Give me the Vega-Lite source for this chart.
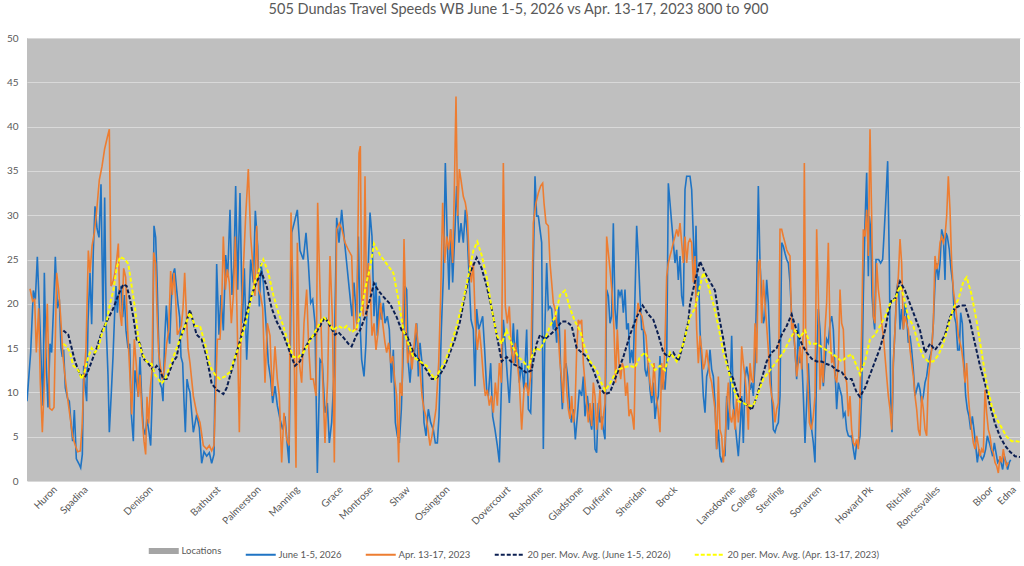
{
"$schema": "https://vega.github.io/schema/vega-lite/v6.json",
"autosize": "none",
"width": 993,
"height": 443,
"padding": {"left": 27, "top": 38, "right": 4, "bottom": 85},
"background": "white",
"title": {"text": "505 Dundas Travel Speeds WB June 1-5, 2026 vs Apr. 13-17, 2023 800 to 900", "fontSize": 14.5, "fontWeight": "normal", "color": "#595959", "font": "Lato", "offset": 16, "anchor": "middle", "dx": -5},
"config": {"view": {"fill": "#BFBFBF", "stroke": null}, "font": "Lato"},
"datasets": {
"loc": [{"pos":74,"name":"Huron","g":"L"},{"pos":166,"name":"Spadina","g":"L"},{"pos":361,"name":"Denison","g":"L"},{"pos":564,"name":"Bathurst","g":"L"},{"pos":685,"name":"Palmerston","g":"L"},{"pos":801,"name":"Manning","g":"L"},{"pos":931,"name":"Grace","g":"L"},{"pos":1021,"name":"Montrose","g":"L"},{"pos":1132,"name":"Shaw","g":"L"},{"pos":1251,"name":"Ossington","g":"L"},{"pos":1434,"name":"Dovercourt","g":"L"},{"pos":1531,"name":"Rusholme","g":"L"},{"pos":1652,"name":"Gladstone","g":"L"},{"pos":1739,"name":"Dufferin","g":"L"},{"pos":1841,"name":"Sheridan","g":"L"},{"pos":1934,"name":"Brock","g":"L"},{"pos":2109,"name":"Lansdowne","g":"L"},{"pos":2174,"name":"College","g":"L"},{"pos":2251,"name":"Sterling","g":"L"},{"pos":2366,"name":"Sorauren","g":"L"},{"pos":2521,"name":"Howard Pk","g":"L"},{"pos":2636,"name":"Ritchie","g":"L"},{"pos":2722,"name":"Roncesvalles","g":"L"},{"pos":2882,"name":"Bloor","g":"L"},{"pos":2951,"name":"Edna","g":"L"}],
"jun": [
{"pos":0,"v":9,"g":"J"},{"pos":11,"v":14.5,"g":"J"},{"pos":19,"v":21.5,"g":"J"},{"pos":25,"v":20.5,"g":"J"},{"pos":31,"v":25.3,"g":"J"},{"pos":37,"v":19.5,"g":"J"},{"pos":43,"v":13,"g":"J"},{"pos":48,"v":8.5,"g":"J"},{"pos":52,"v":23.5,"g":"J"},{"pos":57,"v":14,"g":"J"},{"pos":63,"v":8.3,"g":"J"},{"pos":69,"v":15.5,"g":"J"},{"pos":74,"v":14.5,"g":"J"},{"pos":79,"v":19,"g":"J"},{"pos":85,"v":25.3,"g":"J"},{"pos":91,"v":19.5,"g":"J"},{"pos":97,"v":20.5,"g":"J"},{"pos":102,"v":15,"g":"J"},{"pos":106,"v":14,"g":"J"},{"pos":110,"v":14.8,"g":"J"},{"pos":115,"v":10.5,"g":"J"},{"pos":122,"v":9.3,"g":"J"},{"pos":127,"v":9,"g":"J"},{"pos":132,"v":6.5,"g":"J"},{"pos":137,"v":4.5,"g":"J"},{"pos":142,"v":8,"g":"J"},{"pos":148,"v":2.5,"g":"J"},{"pos":155,"v":2,"g":"J"},{"pos":161,"v":1.5,"g":"J"},{"pos":166,"v":3,"g":"J"},{"pos":170,"v":13,"g":"J"},{"pos":175,"v":10.5,"g":"J"},{"pos":179,"v":9,"g":"J"},{"pos":183,"v":18,"g":"J"},{"pos":189,"v":23.5,"g":"J"},{"pos":194,"v":17.7,"g":"J"},{"pos":199,"v":26,"g":"J"},{"pos":204,"v":31,"g":"J"},{"pos":210,"v":28.5,"g":"J"},{"pos":216,"v":27.5,"g":"J"},{"pos":222,"v":33.5,"g":"J"},{"pos":228,"v":18,"g":"J"},{"pos":233,"v":32,"g":"J"},{"pos":238,"v":17,"g":"J"},{"pos":243,"v":12,"g":"J"},{"pos":247,"v":5.5,"g":"J"},{"pos":253,"v":10,"g":"J"},{"pos":258,"v":14,"g":"J"},{"pos":263,"v":19,"g":"J"},{"pos":267,"v":22,"g":"J"},{"pos":271,"v":19,"g":"J"},{"pos":276,"v":21.5,"g":"J"},{"pos":282,"v":22,"g":"J"},{"pos":287,"v":18.5,"g":"J"},{"pos":292,"v":21,"g":"J"},{"pos":297,"v":17,"g":"J"},{"pos":303,"v":15,"g":"J"},{"pos":308,"v":15.5,"g":"J"},{"pos":313,"v":7.5,"g":"J"},{"pos":319,"v":4.5,"g":"J"},{"pos":324,"v":12.5,"g":"J"},{"pos":329,"v":11,"g":"J"},{"pos":334,"v":9.5,"g":"J"},{"pos":339,"v":14,"g":"J"},{"pos":344,"v":9.5,"g":"J"},{"pos":349,"v":6,"g":"J"},{"pos":355,"v":5.2,"g":"J"},{"pos":360,"v":7,"g":"J"},{"pos":366,"v":5.5,"g":"J"},{"pos":371,"v":4,"g":"J"},{"pos":376,"v":10,"g":"J"},{"pos":381,"v":28.8,"g":"J"},{"pos":386,"v":27.5,"g":"J"},{"pos":390,"v":23,"g":"J"},{"pos":394,"v":17,"g":"J"},{"pos":399,"v":11,"g":"J"},{"pos":404,"v":10.5,"g":"J"},{"pos":408,"v":9,"g":"J"},{"pos":413,"v":16,"g":"J"},{"pos":418,"v":19.8,"g":"J"},{"pos":423,"v":17,"g":"J"},{"pos":428,"v":15.5,"g":"J"},{"pos":433,"v":20.5,"g":"J"},{"pos":438,"v":23.3,"g":"J"},{"pos":443,"v":24,"g":"J"},{"pos":448,"v":22,"g":"J"},{"pos":453,"v":20,"g":"J"},{"pos":458,"v":18.5,"g":"J"},{"pos":462,"v":14,"g":"J"},{"pos":467,"v":13.3,"g":"J"},{"pos":471,"v":9,"g":"J"},{"pos":475,"v":5.5,"g":"J"},{"pos":480,"v":11.5,"g":"J"},{"pos":485,"v":10.5,"g":"J"},
{"pos":489,"v":10,"g":"J"},{"pos":499,"v":5.5,"g":"J"},{"pos":509,"v":7.5,"g":"J"},{"pos":517,"v":6,"g":"J"},{"pos":524,"v":2,"g":"J"},{"pos":531,"v":3.3,"g":"J"},{"pos":539,"v":2.8,"g":"J"},{"pos":547,"v":3.2,"g":"J"},{"pos":554,"v":2,"g":"J"},{"pos":561,"v":3,"g":"J"},{"pos":569,"v":24.5,"g":"J"},{"pos":576,"v":16.5,"g":"J"},{"pos":582,"v":21,"g":"J"},{"pos":589,"v":17,"g":"J"},{"pos":596,"v":25.5,"g":"J"},{"pos":602,"v":23,"g":"J"},{"pos":609,"v":30.6,"g":"J"},{"pos":615,"v":21,"g":"J"},{"pos":621,"v":24.5,"g":"J"},{"pos":626,"v":33.3,"g":"J"},{"pos":632,"v":21.6,"g":"J"},{"pos":639,"v":32.5,"g":"J"},{"pos":646,"v":17.8,"g":"J"},{"pos":652,"v":24,"g":"J"},{"pos":659,"v":13.7,"g":"J"},{"pos":664,"v":18,"g":"J"},{"pos":671,"v":25,"g":"J"},{"pos":679,"v":22.4,"g":"J"},{"pos":685,"v":30.5,"g":"J"},{"pos":692,"v":26.5,"g":"J"},{"pos":697,"v":19.7,"g":"J"},{"pos":702,"v":24.6,"g":"J"},{"pos":709,"v":22.4,"g":"J"},{"pos":717,"v":17.8,"g":"J"},{"pos":724,"v":13.3,"g":"J"},{"pos":731,"v":11.5,"g":"J"},{"pos":737,"v":8.8,"g":"J"},{"pos":744,"v":10.7,"g":"J"},{"pos":751,"v":8.5,"g":"J"},{"pos":759,"v":7,"g":"J"},{"pos":767,"v":5.8,"g":"J"},{"pos":774,"v":7.3,"g":"J"},{"pos":781,"v":4,"g":"J"},{"pos":786,"v":2,"g":"J"},{"pos":794,"v":28,"g":"J"},{"pos":804,"v":29.5,"g":"J"},{"pos":811,"v":30.6,"g":"J"},{"pos":819,"v":26,"g":"J"},{"pos":829,"v":25,"g":"J"},{"pos":837,"v":28,"g":"J"},{"pos":844,"v":24.6,"g":"J"},{"pos":851,"v":20.1,"g":"J"},{"pos":857,"v":20.5,"g":"J"},{"pos":864,"v":17.8,"g":"J"},{"pos":871,"v":0.9,"g":"J"},{"pos":879,"v":13.7,"g":"J"},{"pos":886,"v":13.3,"g":"J"},{"pos":894,"v":7.7,"g":"J"},{"pos":901,"v":8.8,"g":"J"},{"pos":907,"v":4.3,"g":"J"},{"pos":914,"v":6.6,"g":"J"},{"pos":921,"v":12,"g":"J"},{"pos":929,"v":29.7,"g":"J"},{"pos":936,"v":26.9,"g":"J"},{"pos":944,"v":30.6,"g":"J"},{"pos":951,"v":27.6,"g":"J"},{"pos":959,"v":24.6,"g":"J"},{"pos":967,"v":21.6,"g":"J"},{"pos":975,"v":18.6,"g":"J"},{"pos":981,"v":22.4,"g":"J"},{"pos":989,"v":17.8,"g":"J"},{"pos":994,"v":27.6,"g":"J"},
{"pos":999,"v":17.8,"g":"J"},{"pos":1004,"v":13.7,"g":"J"},{"pos":1011,"v":11.8,"g":"J"},{"pos":1017,"v":15.6,"g":"J"},{"pos":1024,"v":24.6,"g":"J"},{"pos":1029,"v":30.3,"g":"J"},{"pos":1035,"v":27.6,"g":"J"},{"pos":1041,"v":18.6,"g":"J"},{"pos":1047,"v":22.4,"g":"J"},{"pos":1051,"v":16.4,"g":"J"},{"pos":1057,"v":20.9,"g":"J"},{"pos":1063,"v":18.2,"g":"J"},{"pos":1069,"v":20.1,"g":"J"},{"pos":1074,"v":17.8,"g":"J"},{"pos":1081,"v":18.6,"g":"J"},{"pos":1087,"v":17.1,"g":"J"},{"pos":1093,"v":11.1,"g":"J"},{"pos":1099,"v":14.8,"g":"J"},{"pos":1105,"v":6.6,"g":"J"},{"pos":1111,"v":5.1,"g":"J"},{"pos":1117,"v":4.3,"g":"J"},{"pos":1123,"v":8.1,"g":"J"},{"pos":1129,"v":14.8,"g":"J"},{"pos":1134,"v":22,"g":"J"},{"pos":1139,"v":21.6,"g":"J"},{"pos":1144,"v":13.3,"g":"J"},{"pos":1149,"v":11.1,"g":"J"},{"pos":1156,"v":14.8,"g":"J"},{"pos":1162,"v":14.1,"g":"J"},{"pos":1169,"v":17.8,"g":"J"},{"pos":1174,"v":11.8,"g":"J"},{"pos":1179,"v":15.6,"g":"J"},{"pos":1185,"v":13.3,"g":"J"},{"pos":1191,"v":6.6,"g":"J"},{"pos":1197,"v":5.1,"g":"J"},{"pos":1204,"v":8.1,"g":"J"},{"pos":1211,"v":6.6,"g":"J"},{"pos":1219,"v":5.8,"g":"J"},{"pos":1225,"v":4.3,"g":"J"},{"pos":1231,"v":4.3,"g":"J"},{"pos":1236,"v":7.3,"g":"J"},{"pos":1243,"v":17.1,"g":"J"},{"pos":1249,"v":23.1,"g":"J"},{"pos":1255,"v":35.9,"g":"J"},{"pos":1261,"v":26.9,"g":"J"},{"pos":1266,"v":21.6,"g":"J"},{"pos":1271,"v":28.4,"g":"J"},{"pos":1277,"v":22.4,"g":"J"},{"pos":1284,"v":28.4,"g":"J"},{"pos":1289,"v":33.3,"g":"J"},{"pos":1296,"v":26.9,"g":"J"},{"pos":1302,"v":29.1,"g":"J"},{"pos":1309,"v":26.9,"g":"J"},{"pos":1315,"v":30.6,"g":"J"},{"pos":1321,"v":27.6,"g":"J"},{"pos":1327,"v":22.4,"g":"J"},{"pos":1332,"v":18.2,"g":"J"},{"pos":1339,"v":17.1,"g":"J"},{"pos":1344,"v":10.7,"g":"J"},{"pos":1349,"v":19.4,"g":"J"},{"pos":1355,"v":17.1,"g":"J"},{"pos":1361,"v":17.8,"g":"J"},{"pos":1367,"v":18.6,"g":"J"},{"pos":1373,"v":14.8,"g":"J"},{"pos":1379,"v":10.3,"g":"J"},{"pos":1384,"v":9.6,"g":"J"},{"pos":1391,"v":13.3,"g":"J"},{"pos":1397,"v":7.3,"g":"J"},{"pos":1404,"v":5.8,"g":"J"},{"pos":1411,"v":4,"g":"J"},{"pos":1417,"v":2.1,"g":"J"},{"pos":1423,"v":10.3,"g":"J"},{"pos":1429,"v":18.2,"g":"J"},{"pos":1435,"v":15.2,"g":"J"},{"pos":1441,"v":11.8,"g":"J"},{"pos":1447,"v":8.8,"g":"J"},{"pos":1453,"v":13.3,"g":"J"},{"pos":1459,"v":17.8,"g":"J"},{"pos":1465,"v":13.3,"g":"J"},{"pos":1471,"v":17.1,"g":"J"},{"pos":1477,"v":11.1,"g":"J"},{"pos":1484,"v":13.3,"g":"J"},{"pos":1491,"v":10.3,"g":"J"},{"pos":1499,"v":17.1,"g":"J"},{"pos":1504,"v":8.1,"g":"J"},{"pos":1511,"v":7.7,"g":"J"},
{"pos":1514,"v":11.1,"g":"J"},{"pos":1519,"v":24.6,"g":"J"},{"pos":1524,"v":34.4,"g":"J"},{"pos":1529,"v":29.9,"g":"J"},{"pos":1534,"v":29.9,"g":"J"},{"pos":1539,"v":28.4,"g":"J"},{"pos":1544,"v":26.9,"g":"J"},{"pos":1549,"v":3.6,"g":"J"},{"pos":1554,"v":17.8,"g":"J"},{"pos":1559,"v":24.6,"g":"J"},{"pos":1564,"v":19.4,"g":"J"},{"pos":1569,"v":19.7,"g":"J"},{"pos":1574,"v":19.4,"g":"J"},{"pos":1579,"v":17.1,"g":"J"},{"pos":1584,"v":18.2,"g":"J"},{"pos":1589,"v":15.6,"g":"J"},{"pos":1595,"v":19.7,"g":"J"},{"pos":1601,"v":12.6,"g":"J"},{"pos":1606,"v":8.1,"g":"J"},{"pos":1612,"v":12.6,"g":"J"},{"pos":1617,"v":13.3,"g":"J"},{"pos":1622,"v":11.8,"g":"J"},{"pos":1627,"v":8.8,"g":"J"},{"pos":1633,"v":6.6,"g":"J"},{"pos":1639,"v":8.1,"g":"J"},{"pos":1645,"v":4.7,"g":"J"},{"pos":1651,"v":7.3,"g":"J"},{"pos":1657,"v":10.3,"g":"J"},{"pos":1664,"v":9.6,"g":"J"},{"pos":1669,"v":11.8,"g":"J"},{"pos":1674,"v":7.3,"g":"J"},{"pos":1681,"v":9.6,"g":"J"},{"pos":1687,"v":7.3,"g":"J"},{"pos":1694,"v":5.8,"g":"J"},{"pos":1699,"v":8.8,"g":"J"},{"pos":1704,"v":3.6,"g":"J"},{"pos":1709,"v":3.2,"g":"J"},{"pos":1714,"v":8.8,"g":"J"},{"pos":1719,"v":6.6,"g":"J"},{"pos":1724,"v":7.3,"g":"J"},{"pos":1729,"v":5.8,"g":"J"},{"pos":1734,"v":4.7,"g":"J"},{"pos":1739,"v":21.6,"g":"J"},{"pos":1744,"v":20.9,"g":"J"},{"pos":1749,"v":17.8,"g":"J"},{"pos":1754,"v":18.6,"g":"J"},{"pos":1759,"v":29.1,"g":"J"},{"pos":1764,"v":19.4,"g":"J"},{"pos":1769,"v":17.1,"g":"J"},{"pos":1774,"v":21.6,"g":"J"},{"pos":1779,"v":20.9,"g":"J"},{"pos":1784,"v":21.6,"g":"J"},{"pos":1789,"v":19,"g":"J"},{"pos":1794,"v":21.6,"g":"J"},{"pos":1799,"v":17.1,"g":"J"},{"pos":1804,"v":17.8,"g":"J"},{"pos":1809,"v":13.3,"g":"J"},{"pos":1814,"v":14.8,"g":"J"},{"pos":1819,"v":13.3,"g":"J"},{"pos":1824,"v":20.9,"g":"J"},{"pos":1829,"v":28.8,"g":"J"},{"pos":1834,"v":25.4,"g":"J"},{"pos":1839,"v":20.9,"g":"J"},{"pos":1844,"v":17.1,"g":"J"},{"pos":1849,"v":17.1,"g":"J"},{"pos":1854,"v":12.6,"g":"J"},{"pos":1859,"v":11.8,"g":"J"},{"pos":1864,"v":13.3,"g":"J"},{"pos":1869,"v":10.3,"g":"J"},{"pos":1874,"v":8.8,"g":"J"},{"pos":1879,"v":11.1,"g":"J"},{"pos":1884,"v":7,"g":"J"},{"pos":1889,"v":8.8,"g":"J"},{"pos":1894,"v":9.6,"g":"J"},{"pos":1899,"v":14.1,"g":"J"},{"pos":1904,"v":10.3,"g":"J"},{"pos":1909,"v":11.5,"g":"J"},{"pos":1914,"v":10.3,"g":"J"},{"pos":1919,"v":13.3,"g":"J"},{"pos":1924,"v":33.6,"g":"J"},{"pos":1929,"v":31.4,"g":"J"},{"pos":1934,"v":29.1,"g":"J"},{"pos":1939,"v":26.9,"g":"J"},{"pos":1944,"v":24.6,"g":"J"},{"pos":1949,"v":26.1,"g":"J"},{"pos":1954,"v":22.7,"g":"J"},{"pos":1959,"v":25.4,"g":"J"},{"pos":1964,"v":20.9,"g":"J"},{"pos":1969,"v":19.7,"g":"J"},{"pos":1974,"v":32.9,"g":"J"},{"pos":1979,"v":34.4,"g":"J"},{"pos":1984,"v":34.4,"g":"J"},
{"pos":1989,"v":34.4,"g":"J"},{"pos":1994,"v":32.9,"g":"J"},{"pos":1999,"v":27.6,"g":"J"},{"pos":2004,"v":22.4,"g":"J"},{"pos":2007,"v":28.8,"g":"J"},{"pos":2011,"v":20.9,"g":"J"},{"pos":2015,"v":23.1,"g":"J"},{"pos":2019,"v":17.1,"g":"J"},{"pos":2024,"v":13.3,"g":"J"},{"pos":2029,"v":9.6,"g":"J"},{"pos":2034,"v":7.7,"g":"J"},{"pos":2039,"v":11.8,"g":"J"},{"pos":2044,"v":12.6,"g":"J"},{"pos":2049,"v":14.8,"g":"J"},{"pos":2054,"v":12.6,"g":"J"},{"pos":2059,"v":11.8,"g":"J"},{"pos":2064,"v":8.8,"g":"J"},{"pos":2069,"v":3.6,"g":"J"},{"pos":2074,"v":5.8,"g":"J"},{"pos":2079,"v":2.8,"g":"J"},{"pos":2084,"v":2.1,"g":"J"},{"pos":2089,"v":3.2,"g":"J"},{"pos":2094,"v":2.8,"g":"J"},{"pos":2099,"v":9.6,"g":"J"},{"pos":2104,"v":5.8,"g":"J"},{"pos":2109,"v":9.6,"g":"J"},{"pos":2114,"v":16.4,"g":"J"},{"pos":2119,"v":8.8,"g":"J"},{"pos":2124,"v":6.6,"g":"J"},{"pos":2129,"v":4.7,"g":"J"},{"pos":2134,"v":2.8,"g":"J"},{"pos":2139,"v":5.8,"g":"J"},{"pos":2144,"v":9.6,"g":"J"},{"pos":2149,"v":4.3,"g":"J"},{"pos":2154,"v":11.5,"g":"J"},{"pos":2159,"v":12.9,"g":"J"},{"pos":2164,"v":11.8,"g":"J"},{"pos":2169,"v":10.3,"g":"J"},{"pos":2174,"v":11.1,"g":"J"},{"pos":2179,"v":9.6,"g":"J"},{"pos":2184,"v":13.3,"g":"J"},{"pos":2189,"v":21.6,"g":"J"},{"pos":2194,"v":33.3,"g":"J"},{"pos":2199,"v":24.6,"g":"J"},{"pos":2204,"v":20.9,"g":"J"},{"pos":2209,"v":17.8,"g":"J"},{"pos":2214,"v":18.6,"g":"J"},{"pos":2219,"v":22.7,"g":"J"},{"pos":2224,"v":20.1,"g":"J"},{"pos":2229,"v":15.2,"g":"J"},{"pos":2234,"v":9.6,"g":"J"},{"pos":2239,"v":5.8,"g":"J"},{"pos":2244,"v":5.5,"g":"J"},{"pos":2249,"v":6.2,"g":"J"},{"pos":2254,"v":6.6,"g":"J"},{"pos":2259,"v":9.6,"g":"J"},{"pos":2264,"v":26.9,"g":"J"},{"pos":2269,"v":26.5,"g":"J"},{"pos":2274,"v":25.7,"g":"J"},{"pos":2279,"v":25,"g":"J"},{"pos":2284,"v":24.6,"g":"J"},{"pos":2289,"v":22.4,"g":"J"},{"pos":2294,"v":18.6,"g":"J"},{"pos":2299,"v":17.1,"g":"J"},{"pos":2304,"v":14.8,"g":"J"},{"pos":2309,"v":11.5,"g":"J"},{"pos":2314,"v":17.8,"g":"J"},{"pos":2319,"v":13.3,"g":"J"},{"pos":2324,"v":14.1,"g":"J"},{"pos":2329,"v":9.6,"g":"J"},{"pos":2334,"v":4.3,"g":"J"},{"pos":2339,"v":8.8,"g":"J"},{"pos":2344,"v":13.3,"g":"J"},{"pos":2349,"v":8.8,"g":"J"},{"pos":2354,"v":5.8,"g":"J"},{"pos":2359,"v":4.3,"g":"J"},{"pos":2364,"v":2.1,"g":"J"},{"pos":2369,"v":13.3,"g":"J"},{"pos":2374,"v":19.4,"g":"J"},{"pos":2379,"v":17.1,"g":"J"},{"pos":2384,"v":13.3,"g":"J"},{"pos":2389,"v":10.7,"g":"J"},{"pos":2394,"v":13.3,"g":"J"},{"pos":2399,"v":16,"g":"J"},{"pos":2404,"v":15.6,"g":"J"},{"pos":2409,"v":17.8,"g":"J"},{"pos":2414,"v":18.6,"g":"J"},{"pos":2419,"v":17.1,"g":"J"},{"pos":2424,"v":12.6,"g":"J"},{"pos":2429,"v":8.1,"g":"J"},{"pos":2434,"v":11.1,"g":"J"},{"pos":2439,"v":10.3,"g":"J"},{"pos":2444,"v":9.6,"g":"J"},{"pos":2449,"v":7.3,"g":"J"},{"pos":2454,"v":7.7,"g":"J"},{"pos":2459,"v":5.8,"g":"J"},{"pos":2464,"v":5.1,"g":"J"},
{"pos":2469,"v":5,"g":"J"},{"pos":2474,"v":5.1,"g":"J"},{"pos":2479,"v":3.6,"g":"J"},{"pos":2484,"v":2.4,"g":"J"},{"pos":2489,"v":4.3,"g":"J"},{"pos":2494,"v":4,"g":"J"},{"pos":2499,"v":5.1,"g":"J"},{"pos":2504,"v":9.6,"g":"J"},{"pos":2509,"v":20.9,"g":"J"},{"pos":2514,"v":29.1,"g":"J"},{"pos":2519,"v":34.8,"g":"J"},{"pos":2524,"v":23.1,"g":"J"},{"pos":2527,"v":29.9,"g":"J"},{"pos":2531,"v":28.4,"g":"J"},{"pos":2535,"v":20.9,"g":"J"},{"pos":2539,"v":18.6,"g":"J"},{"pos":2543,"v":17.1,"g":"J"},{"pos":2547,"v":25,"g":"J"},{"pos":2551,"v":25,"g":"J"},{"pos":2555,"v":25,"g":"J"},{"pos":2561,"v":24.6,"g":"J"},{"pos":2567,"v":25,"g":"J"},{"pos":2572,"v":28.4,"g":"J"},{"pos":2577,"v":32.1,"g":"J"},{"pos":2582,"v":36.1,"g":"J"},{"pos":2587,"v":24.6,"g":"J"},{"pos":2591,"v":9.6,"g":"J"},{"pos":2595,"v":5.5,"g":"J"},{"pos":2599,"v":13.3,"g":"J"},{"pos":2604,"v":17.1,"g":"J"},{"pos":2609,"v":21.6,"g":"J"},{"pos":2614,"v":22.7,"g":"J"},{"pos":2619,"v":17.1,"g":"J"},{"pos":2624,"v":19.4,"g":"J"},{"pos":2629,"v":17.1,"g":"J"},{"pos":2634,"v":20.1,"g":"J"},{"pos":2639,"v":18.6,"g":"J"},{"pos":2644,"v":15.6,"g":"J"},{"pos":2649,"v":16.4,"g":"J"},{"pos":2654,"v":14.8,"g":"J"},{"pos":2659,"v":12.6,"g":"J"},{"pos":2664,"v":9.6,"g":"J"},{"pos":2669,"v":10.3,"g":"J"},{"pos":2674,"v":11.1,"g":"J"},{"pos":2679,"v":10.3,"g":"J"},{"pos":2684,"v":8.8,"g":"J"},{"pos":2689,"v":9.6,"g":"J"},{"pos":2694,"v":11.1,"g":"J"},{"pos":2699,"v":11.8,"g":"J"},{"pos":2704,"v":13.3,"g":"J"},{"pos":2709,"v":14.1,"g":"J"},{"pos":2714,"v":14.8,"g":"J"},{"pos":2719,"v":17.8,"g":"J"},{"pos":2724,"v":22.4,"g":"J"},{"pos":2729,"v":24.6,"g":"J"},{"pos":2734,"v":22.7,"g":"J"},{"pos":2739,"v":24.6,"g":"J"},{"pos":2744,"v":28.4,"g":"J"},{"pos":2749,"v":27.6,"g":"J"},{"pos":2754,"v":22.7,"g":"J"},{"pos":2757,"v":28,"g":"J"},{"pos":2761,"v":27.6,"g":"J"},{"pos":2767,"v":26.1,"g":"J"},{"pos":2772,"v":23.9,"g":"J"},{"pos":2777,"v":22.4,"g":"J"},{"pos":2782,"v":18.6,"g":"J"},{"pos":2787,"v":17.8,"g":"J"},{"pos":2792,"v":14.8,"g":"J"},{"pos":2797,"v":14.8,"g":"J"},{"pos":2801,"v":19,"g":"J"},{"pos":2806,"v":17.8,"g":"J"},{"pos":2811,"v":13.3,"g":"J"},{"pos":2816,"v":9.6,"g":"J"},{"pos":2821,"v":8.1,"g":"J"},{"pos":2826,"v":7.3,"g":"J"},{"pos":2831,"v":5.8,"g":"J"},{"pos":2836,"v":7.3,"g":"J"},{"pos":2841,"v":5.8,"g":"J"},{"pos":2846,"v":4,"g":"J"},{"pos":2851,"v":2.1,"g":"J"},{"pos":2856,"v":3.6,"g":"J"},{"pos":2861,"v":2.8,"g":"J"},{"pos":2866,"v":2.4,"g":"J"},{"pos":2871,"v":2.8,"g":"J"},{"pos":2876,"v":3.6,"g":"J"},{"pos":2881,"v":5.1,"g":"J"},{"pos":2887,"v":4.3,"g":"J"},{"pos":2892,"v":3.6,"g":"J"},{"pos":2897,"v":2.8,"g":"J"},{"pos":2902,"v":4.3,"g":"J"},{"pos":2907,"v":3.2,"g":"J"},{"pos":2912,"v":2.1,"g":"J"},{"pos":2917,"v":2.4,"g":"J"},{"pos":2922,"v":2.1,"g":"J"},{"pos":2927,"v":1.3,"g":"J"},{"pos":2932,"v":2.8,"g":"J"},{"pos":2937,"v":2.1,"g":"J"},{"pos":2942,"v":1.3,"g":"J"},{"pos":2947,"v":2.1,"g":"J"},{"pos":2951,"v":2.4,"g":"J"}
],
"apr": [
{"pos":9,"v":21.7,"g":"A"},{"pos":17,"v":20.3,"g":"A"},{"pos":23,"v":20.5,"g":"A"},{"pos":28,"v":14.5,"g":"A"},{"pos":35,"v":19.5,"g":"A"},{"pos":40,"v":11,"g":"A"},{"pos":46,"v":5.5,"g":"A"},{"pos":53,"v":12,"g":"A"},{"pos":61,"v":20,"g":"A"},{"pos":68,"v":8.2,"g":"A"},{"pos":75,"v":8,"g":"A"},{"pos":81,"v":8.3,"g":"A"},{"pos":89,"v":23.5,"g":"A"},{"pos":95,"v":21.5,"g":"A"},{"pos":101,"v":18.5,"g":"A"},{"pos":108,"v":14,"g":"A"},{"pos":115,"v":11.5,"g":"A"},{"pos":123,"v":9,"g":"A"},{"pos":130,"v":7,"g":"A"},{"pos":137,"v":5,"g":"A"},{"pos":145,"v":4,"g":"A"},{"pos":152,"v":3.3,"g":"A"},{"pos":160,"v":3.4,"g":"A"},{"pos":165,"v":6,"g":"A"},{"pos":171,"v":11.5,"g":"A"},{"pos":177,"v":15,"g":"A"},{"pos":184,"v":26,"g":"A"},{"pos":189,"v":23.5,"g":"A"},{"pos":195,"v":26.5,"g":"A"},{"pos":202,"v":28,"g":"A"},{"pos":209,"v":30.5,"g":"A"},{"pos":217,"v":34,"g":"A"},{"pos":225,"v":35.5,"g":"A"},{"pos":233,"v":37.5,"g":"A"},{"pos":241,"v":38.8,"g":"A"},{"pos":247,"v":39.7,"g":"A"},{"pos":252,"v":22,"g":"A"},{"pos":258,"v":22.5,"g":"A"},{"pos":264,"v":23.5,"g":"A"},{"pos":269,"v":25,"g":"A"},{"pos":274,"v":26.8,"g":"A"},{"pos":279,"v":19,"g":"A"},{"pos":284,"v":17.5,"g":"A"},{"pos":290,"v":24,"g":"A"},{"pos":296,"v":23,"g":"A"},{"pos":302,"v":17,"g":"A"},{"pos":308,"v":12.5,"g":"A"},{"pos":314,"v":7.5,"g":"A"},{"pos":322,"v":16,"g":"A"},{"pos":328,"v":13,"g":"A"},{"pos":334,"v":9.5,"g":"A"},{"pos":339,"v":12,"g":"A"},{"pos":345,"v":7.5,"g":"A"},{"pos":351,"v":4.5,"g":"A"},{"pos":356,"v":3,"g":"A"},{"pos":360,"v":9.5,"g":"A"},{"pos":365,"v":6.5,"g":"A"},{"pos":370,"v":10.5,"g":"A"},{"pos":375,"v":12.5,"g":"A"},{"pos":380,"v":25.8,"g":"A"},{"pos":386,"v":24.5,"g":"A"},{"pos":390,"v":19,"g":"A"},{"pos":395,"v":14.5,"g":"A"},{"pos":400,"v":13,"g":"A"},{"pos":406,"v":11.5,"g":"A"},{"pos":412,"v":12.5,"g":"A"},{"pos":419,"v":15.5,"g":"A"},{"pos":425,"v":17,"g":"A"},{"pos":431,"v":23.7,"g":"A"},{"pos":436,"v":21,"g":"A"},{"pos":441,"v":23.5,"g":"A"},{"pos":446,"v":20.5,"g":"A"},{"pos":451,"v":16.5,"g":"A"},{"pos":457,"v":17,"g":"A"},{"pos":463,"v":17.5,"g":"A"},{"pos":468,"v":19.5,"g":"A"},{"pos":473,"v":23.5,"g":"A"},{"pos":478,"v":19,"g":"A"},{"pos":483,"v":15,"g":"A"},
{"pos":489,"v":13.3,"g":"A"},{"pos":499,"v":9.6,"g":"A"},{"pos":509,"v":7.7,"g":"A"},{"pos":519,"v":6.6,"g":"A"},{"pos":529,"v":4,"g":"A"},{"pos":539,"v":3.6,"g":"A"},{"pos":547,"v":4,"g":"A"},{"pos":554,"v":3.4,"g":"A"},{"pos":561,"v":4,"g":"A"},{"pos":571,"v":16,"g":"A"},{"pos":579,"v":16,"g":"A"},{"pos":584,"v":19.7,"g":"A"},{"pos":589,"v":27.6,"g":"A"},{"pos":595,"v":21.6,"g":"A"},{"pos":601,"v":23.9,"g":"A"},{"pos":607,"v":22.4,"g":"A"},{"pos":613,"v":17.8,"g":"A"},{"pos":619,"v":20.9,"g":"A"},{"pos":625,"v":27.6,"g":"A"},{"pos":631,"v":17.1,"g":"A"},{"pos":637,"v":5.5,"g":"A"},{"pos":643,"v":19,"g":"A"},{"pos":649,"v":23.9,"g":"A"},{"pos":656,"v":29.9,"g":"A"},{"pos":664,"v":35.2,"g":"A"},{"pos":671,"v":27.6,"g":"A"},{"pos":677,"v":24.6,"g":"A"},{"pos":684,"v":20.9,"g":"A"},{"pos":689,"v":28.8,"g":"A"},{"pos":695,"v":21.6,"g":"A"},{"pos":701,"v":20.9,"g":"A"},{"pos":707,"v":19.5,"g":"A"},{"pos":714,"v":11.1,"g":"A"},{"pos":721,"v":17.8,"g":"A"},{"pos":729,"v":16.4,"g":"A"},{"pos":736,"v":9.6,"g":"A"},{"pos":744,"v":15.2,"g":"A"},{"pos":751,"v":11.5,"g":"A"},{"pos":757,"v":9.6,"g":"A"},{"pos":764,"v":2.1,"g":"A"},{"pos":771,"v":7.7,"g":"A"},{"pos":779,"v":4.7,"g":"A"},{"pos":786,"v":4,"g":"A"},{"pos":792,"v":30.3,"g":"A"},{"pos":799,"v":20.1,"g":"A"},{"pos":807,"v":1.5,"g":"A"},{"pos":811,"v":26.9,"g":"A"},{"pos":817,"v":13.3,"g":"A"},{"pos":824,"v":11.1,"g":"A"},{"pos":831,"v":17.8,"g":"A"},{"pos":839,"v":21.6,"g":"A"},{"pos":845,"v":15.2,"g":"A"},{"pos":851,"v":11.5,"g":"A"},{"pos":859,"v":11.5,"g":"A"},{"pos":867,"v":9.6,"g":"A"},{"pos":872,"v":31.4,"g":"A"},{"pos":879,"v":21.6,"g":"A"},{"pos":887,"v":11.5,"g":"A"},{"pos":894,"v":4.3,"g":"A"},{"pos":902,"v":11.5,"g":"A"},{"pos":909,"v":25.4,"g":"A"},{"pos":916,"v":18.6,"g":"A"},{"pos":922,"v":2.1,"g":"A"},{"pos":929,"v":28.4,"g":"A"},{"pos":937,"v":29.1,"g":"A"},{"pos":945,"v":28.4,"g":"A"},{"pos":954,"v":26.9,"g":"A"},{"pos":964,"v":26.1,"g":"A"},{"pos":974,"v":25.4,"g":"A"},{"pos":981,"v":17.1,"g":"A"},{"pos":989,"v":17.1,"g":"A"},{"pos":996,"v":37,"g":"A"},
{"pos":1000,"v":37.8,"g":"A"},{"pos":1004,"v":20.9,"g":"A"},{"pos":1009,"v":18.6,"g":"A"},{"pos":1014,"v":34.4,"g":"A"},{"pos":1019,"v":18.6,"g":"A"},{"pos":1024,"v":24.6,"g":"A"},{"pos":1029,"v":22.7,"g":"A"},{"pos":1035,"v":16.4,"g":"A"},{"pos":1041,"v":17.8,"g":"A"},{"pos":1047,"v":14.8,"g":"A"},{"pos":1054,"v":17.1,"g":"A"},{"pos":1061,"v":20.1,"g":"A"},{"pos":1067,"v":17.8,"g":"A"},{"pos":1074,"v":15.6,"g":"A"},{"pos":1079,"v":14.5,"g":"A"},{"pos":1085,"v":15.6,"g":"A"},{"pos":1091,"v":13.3,"g":"A"},{"pos":1097,"v":14.1,"g":"A"},{"pos":1103,"v":11.5,"g":"A"},{"pos":1109,"v":9.6,"g":"A"},{"pos":1115,"v":2.1,"g":"A"},{"pos":1119,"v":11.1,"g":"A"},{"pos":1125,"v":9.6,"g":"A"},{"pos":1131,"v":27.3,"g":"A"},{"pos":1137,"v":17.8,"g":"A"},{"pos":1142,"v":13.3,"g":"A"},{"pos":1149,"v":15.2,"g":"A"},{"pos":1155,"v":12.6,"g":"A"},{"pos":1161,"v":15.2,"g":"A"},{"pos":1167,"v":17.8,"g":"A"},{"pos":1173,"v":15.6,"g":"A"},{"pos":1179,"v":12.6,"g":"A"},{"pos":1185,"v":9.6,"g":"A"},{"pos":1191,"v":8.1,"g":"A"},{"pos":1197,"v":7.3,"g":"A"},{"pos":1203,"v":5.8,"g":"A"},{"pos":1209,"v":4,"g":"A"},{"pos":1215,"v":5.1,"g":"A"},{"pos":1221,"v":6.6,"g":"A"},{"pos":1227,"v":8.1,"g":"A"},{"pos":1235,"v":13.3,"g":"A"},{"pos":1241,"v":20.9,"g":"A"},{"pos":1247,"v":31.4,"g":"A"},{"pos":1253,"v":24.6,"g":"A"},{"pos":1259,"v":27.6,"g":"A"},{"pos":1265,"v":26.1,"g":"A"},{"pos":1271,"v":28.4,"g":"A"},{"pos":1277,"v":24.6,"g":"A"},{"pos":1282,"v":32.9,"g":"A"},{"pos":1287,"v":43.4,"g":"A"},{"pos":1292,"v":29.9,"g":"A"},{"pos":1297,"v":35.2,"g":"A"},{"pos":1302,"v":34,"g":"A"},{"pos":1309,"v":32.1,"g":"A"},{"pos":1315,"v":31.4,"g":"A"},{"pos":1321,"v":29.9,"g":"A"},{"pos":1327,"v":24.6,"g":"A"},{"pos":1333,"v":22.4,"g":"A"},{"pos":1339,"v":24.6,"g":"A"},{"pos":1345,"v":17.8,"g":"A"},{"pos":1351,"v":14.8,"g":"A"},{"pos":1357,"v":17.1,"g":"A"},{"pos":1363,"v":14.8,"g":"A"},{"pos":1369,"v":11.8,"g":"A"},{"pos":1375,"v":9.6,"g":"A"},{"pos":1381,"v":10.3,"g":"A"},{"pos":1387,"v":8.5,"g":"A"},{"pos":1393,"v":9.6,"g":"A"},{"pos":1399,"v":7.7,"g":"A"},{"pos":1405,"v":11.1,"g":"A"},{"pos":1411,"v":8.5,"g":"A"},{"pos":1417,"v":13.3,"g":"A"},{"pos":1423,"v":11.1,"g":"A"},{"pos":1429,"v":35.9,"g":"A"},{"pos":1435,"v":19.7,"g":"A"},{"pos":1441,"v":17.8,"g":"A"},{"pos":1447,"v":19.7,"g":"A"},{"pos":1453,"v":14.8,"g":"A"},{"pos":1459,"v":13.3,"g":"A"},{"pos":1465,"v":15.6,"g":"A"},{"pos":1471,"v":13.3,"g":"A"},{"pos":1477,"v":11.1,"g":"A"},{"pos":1484,"v":5.8,"g":"A"},{"pos":1491,"v":10.3,"g":"A"},{"pos":1497,"v":11.1,"g":"A"},{"pos":1504,"v":9.6,"g":"A"},{"pos":1511,"v":11.8,"g":"A"},
{"pos":1519,"v":29.1,"g":"A"},{"pos":1527,"v":31.4,"g":"A"},{"pos":1534,"v":32.5,"g":"A"},{"pos":1541,"v":33.3,"g":"A"},{"pos":1547,"v":33.6,"g":"A"},{"pos":1551,"v":31.4,"g":"A"},{"pos":1557,"v":29.1,"g":"A"},{"pos":1564,"v":28.8,"g":"A"},{"pos":1569,"v":24.6,"g":"A"},{"pos":1574,"v":22.4,"g":"A"},{"pos":1579,"v":20.1,"g":"A"},{"pos":1584,"v":19.4,"g":"A"},{"pos":1589,"v":17.8,"g":"A"},{"pos":1594,"v":16.4,"g":"A"},{"pos":1599,"v":13.3,"g":"A"},{"pos":1605,"v":11.1,"g":"A"},{"pos":1609,"v":8.8,"g":"A"},{"pos":1614,"v":17.1,"g":"A"},{"pos":1619,"v":10.3,"g":"A"},{"pos":1624,"v":8.1,"g":"A"},{"pos":1629,"v":7,"g":"A"},{"pos":1634,"v":9.6,"g":"A"},{"pos":1639,"v":6.6,"g":"A"},{"pos":1644,"v":8.1,"g":"A"},{"pos":1649,"v":14.8,"g":"A"},{"pos":1654,"v":18.2,"g":"A"},{"pos":1659,"v":17.8,"g":"A"},{"pos":1664,"v":18.2,"g":"A"},{"pos":1669,"v":13.3,"g":"A"},{"pos":1674,"v":11.1,"g":"A"},{"pos":1679,"v":8.8,"g":"A"},{"pos":1684,"v":6.6,"g":"A"},{"pos":1689,"v":8.8,"g":"A"},{"pos":1694,"v":6.2,"g":"A"},{"pos":1699,"v":11.1,"g":"A"},{"pos":1704,"v":9.6,"g":"A"},{"pos":1709,"v":5.8,"g":"A"},{"pos":1714,"v":8.1,"g":"A"},{"pos":1719,"v":10.3,"g":"A"},{"pos":1724,"v":5.8,"g":"A"},{"pos":1729,"v":7.3,"g":"A"},{"pos":1734,"v":8.8,"g":"A"},{"pos":1739,"v":27.6,"g":"A"},{"pos":1745,"v":25.4,"g":"A"},{"pos":1751,"v":23.1,"g":"A"},{"pos":1756,"v":20.9,"g":"A"},{"pos":1761,"v":17.1,"g":"A"},{"pos":1766,"v":11.1,"g":"A"},{"pos":1771,"v":17.1,"g":"A"},{"pos":1776,"v":13.3,"g":"A"},{"pos":1781,"v":11.5,"g":"A"},{"pos":1786,"v":13.3,"g":"A"},{"pos":1791,"v":12.6,"g":"A"},{"pos":1796,"v":9.6,"g":"A"},{"pos":1801,"v":11.1,"g":"A"},{"pos":1806,"v":7.3,"g":"A"},{"pos":1811,"v":8.1,"g":"A"},{"pos":1816,"v":7.3,"g":"A"},{"pos":1821,"v":5.8,"g":"A"},{"pos":1827,"v":17.1,"g":"A"},{"pos":1833,"v":20.1,"g":"A"},{"pos":1839,"v":19,"g":"A"},{"pos":1845,"v":18.6,"g":"A"},{"pos":1851,"v":17.1,"g":"A"},{"pos":1857,"v":16.4,"g":"A"},{"pos":1863,"v":13.3,"g":"A"},{"pos":1869,"v":11.1,"g":"A"},{"pos":1875,"v":9.6,"g":"A"},{"pos":1881,"v":13.3,"g":"A"},{"pos":1887,"v":9.6,"g":"A"},{"pos":1893,"v":8.1,"g":"A"},{"pos":1899,"v":5.5,"g":"A"},{"pos":1904,"v":13.3,"g":"A"},{"pos":1909,"v":10.3,"g":"A"},{"pos":1914,"v":15.6,"g":"A"},{"pos":1919,"v":23.1,"g":"A"},{"pos":1924,"v":24.6,"g":"A"},{"pos":1929,"v":25.4,"g":"A"},{"pos":1934,"v":26.1,"g":"A"},{"pos":1939,"v":26.9,"g":"A"},{"pos":1944,"v":27.6,"g":"A"},{"pos":1949,"v":28.4,"g":"A"},{"pos":1954,"v":27.6,"g":"A"},{"pos":1959,"v":29.1,"g":"A"},{"pos":1964,"v":26.9,"g":"A"},{"pos":1969,"v":24.6,"g":"A"},{"pos":1974,"v":27.6,"g":"A"},{"pos":1979,"v":24.6,"g":"A"},{"pos":1984,"v":26.9,"g":"A"},
{"pos":1989,"v":27.3,"g":"A"},{"pos":1994,"v":26.9,"g":"A"},{"pos":1999,"v":22.4,"g":"A"},{"pos":2004,"v":25.4,"g":"A"},{"pos":2009,"v":17.1,"g":"A"},{"pos":2014,"v":13.3,"g":"A"},{"pos":2019,"v":16.4,"g":"A"},{"pos":2024,"v":14.8,"g":"A"},{"pos":2029,"v":12.6,"g":"A"},{"pos":2034,"v":13.3,"g":"A"},{"pos":2039,"v":14.8,"g":"A"},{"pos":2044,"v":13.3,"g":"A"},{"pos":2049,"v":11.8,"g":"A"},{"pos":2054,"v":11.1,"g":"A"},{"pos":2059,"v":9.6,"g":"A"},{"pos":2064,"v":8.1,"g":"A"},{"pos":2069,"v":3.6,"g":"A"},{"pos":2074,"v":11.8,"g":"A"},{"pos":2079,"v":5.8,"g":"A"},{"pos":2084,"v":5.1,"g":"A"},{"pos":2089,"v":2.1,"g":"A"},{"pos":2094,"v":4.3,"g":"A"},{"pos":2099,"v":8.8,"g":"A"},{"pos":2104,"v":11.1,"g":"A"},{"pos":2109,"v":7.3,"g":"A"},{"pos":2114,"v":6.6,"g":"A"},{"pos":2119,"v":8.1,"g":"A"},{"pos":2124,"v":5.8,"g":"A"},{"pos":2129,"v":9.6,"g":"A"},{"pos":2134,"v":6.6,"g":"A"},{"pos":2139,"v":8.8,"g":"A"},{"pos":2144,"v":15.2,"g":"A"},{"pos":2149,"v":13.3,"g":"A"},{"pos":2154,"v":11.8,"g":"A"},{"pos":2159,"v":9.6,"g":"A"},{"pos":2164,"v":5.8,"g":"A"},{"pos":2169,"v":13.3,"g":"A"},{"pos":2174,"v":11.5,"g":"A"},{"pos":2179,"v":11.1,"g":"A"},{"pos":2184,"v":17.8,"g":"A"},{"pos":2189,"v":13.3,"g":"A"},{"pos":2194,"v":24.6,"g":"A"},{"pos":2199,"v":25,"g":"A"},{"pos":2204,"v":17.8,"g":"A"},{"pos":2209,"v":22.7,"g":"A"},{"pos":2214,"v":20.1,"g":"A"},{"pos":2219,"v":17.5,"g":"A"},{"pos":2224,"v":14.8,"g":"A"},{"pos":2229,"v":11.1,"g":"A"},{"pos":2234,"v":9.6,"g":"A"},{"pos":2239,"v":8.8,"g":"A"},{"pos":2244,"v":6.6,"g":"A"},{"pos":2249,"v":8.1,"g":"A"},{"pos":2254,"v":8.8,"g":"A"},{"pos":2259,"v":28.4,"g":"A"},{"pos":2264,"v":28.4,"g":"A"},{"pos":2269,"v":27.6,"g":"A"},{"pos":2274,"v":26.9,"g":"A"},{"pos":2279,"v":26.1,"g":"A"},{"pos":2284,"v":25.7,"g":"A"},{"pos":2289,"v":25.4,"g":"A"},{"pos":2294,"v":17.1,"g":"A"},{"pos":2299,"v":17.8,"g":"A"},{"pos":2304,"v":14.8,"g":"A"},{"pos":2309,"v":11.8,"g":"A"},{"pos":2314,"v":13.3,"g":"A"},{"pos":2319,"v":15.2,"g":"A"},{"pos":2324,"v":12.6,"g":"A"},{"pos":2329,"v":17.1,"g":"A"},{"pos":2332,"v":35.9,"g":"A"},{"pos":2336,"v":17.1,"g":"A"},{"pos":2341,"v":12.6,"g":"A"},{"pos":2347,"v":6.6,"g":"A"},{"pos":2353,"v":5.8,"g":"A"},{"pos":2359,"v":7.3,"g":"A"},{"pos":2364,"v":9.6,"g":"A"},{"pos":2369,"v":28.4,"g":"A"},{"pos":2374,"v":20.9,"g":"A"},{"pos":2379,"v":10.3,"g":"A"},{"pos":2384,"v":13.3,"g":"A"},{"pos":2389,"v":11.1,"g":"A"},{"pos":2394,"v":17.1,"g":"A"},{"pos":2399,"v":20.1,"g":"A"},{"pos":2404,"v":26.9,"g":"A"},{"pos":2409,"v":17.1,"g":"A"},{"pos":2414,"v":13.3,"g":"A"},{"pos":2419,"v":14.1,"g":"A"},{"pos":2424,"v":11.8,"g":"A"},{"pos":2429,"v":11.1,"g":"A"},{"pos":2434,"v":13.3,"g":"A"},{"pos":2439,"v":21.6,"g":"A"},{"pos":2444,"v":17.8,"g":"A"},{"pos":2449,"v":17.1,"g":"A"},{"pos":2454,"v":11.8,"g":"A"},{"pos":2459,"v":11.1,"g":"A"},{"pos":2464,"v":7.3,"g":"A"},
{"pos":2469,"v":9.6,"g":"A"},{"pos":2474,"v":5.8,"g":"A"},{"pos":2479,"v":4.3,"g":"A"},{"pos":2484,"v":4,"g":"A"},{"pos":2489,"v":4.7,"g":"A"},{"pos":2494,"v":3.6,"g":"A"},{"pos":2499,"v":9.6,"g":"A"},{"pos":2504,"v":17.1,"g":"A"},{"pos":2509,"v":28.4,"g":"A"},{"pos":2514,"v":27.6,"g":"A"},{"pos":2519,"v":30.6,"g":"A"},{"pos":2524,"v":25.4,"g":"A"},{"pos":2529,"v":39.7,"g":"A"},{"pos":2534,"v":29.9,"g":"A"},{"pos":2539,"v":18.6,"g":"A"},{"pos":2544,"v":17.8,"g":"A"},{"pos":2549,"v":24.6,"g":"A"},{"pos":2554,"v":21.6,"g":"A"},{"pos":2559,"v":20.1,"g":"A"},{"pos":2564,"v":17.8,"g":"A"},{"pos":2569,"v":16.4,"g":"A"},{"pos":2574,"v":14.1,"g":"A"},{"pos":2579,"v":11.8,"g":"A"},{"pos":2584,"v":9.6,"g":"A"},{"pos":2589,"v":8.1,"g":"A"},{"pos":2594,"v":5.8,"g":"A"},{"pos":2599,"v":13.3,"g":"A"},{"pos":2604,"v":17.1,"g":"A"},{"pos":2609,"v":20.9,"g":"A"},{"pos":2614,"v":23.1,"g":"A"},{"pos":2619,"v":27.3,"g":"A"},{"pos":2624,"v":24.6,"g":"A"},{"pos":2629,"v":17.1,"g":"A"},{"pos":2634,"v":18.6,"g":"A"},{"pos":2639,"v":17.8,"g":"A"},{"pos":2644,"v":17.1,"g":"A"},{"pos":2649,"v":14.8,"g":"A"},{"pos":2654,"v":13.3,"g":"A"},{"pos":2659,"v":11.8,"g":"A"},{"pos":2664,"v":9.6,"g":"A"},{"pos":2669,"v":8.1,"g":"A"},{"pos":2674,"v":5.8,"g":"A"},{"pos":2679,"v":5.1,"g":"A"},{"pos":2684,"v":9.6,"g":"A"},{"pos":2689,"v":8.1,"g":"A"},{"pos":2694,"v":5.8,"g":"A"},{"pos":2699,"v":5.1,"g":"A"},{"pos":2704,"v":11.5,"g":"A"},{"pos":2709,"v":13.3,"g":"A"},{"pos":2714,"v":14.8,"g":"A"},{"pos":2719,"v":17.8,"g":"A"},{"pos":2724,"v":25.4,"g":"A"},{"pos":2729,"v":23.9,"g":"A"},{"pos":2734,"v":24.6,"g":"A"},{"pos":2739,"v":26.9,"g":"A"},{"pos":2744,"v":27.6,"g":"A"},{"pos":2749,"v":26.9,"g":"A"},{"pos":2754,"v":27.6,"g":"A"},{"pos":2759,"v":29.9,"g":"A"},{"pos":2764,"v":34.4,"g":"A"},{"pos":2769,"v":30.6,"g":"A"},{"pos":2774,"v":24.6,"g":"A"},{"pos":2779,"v":21.6,"g":"A"},{"pos":2784,"v":20.1,"g":"A"},{"pos":2789,"v":18.6,"g":"A"},{"pos":2794,"v":16.4,"g":"A"},{"pos":2799,"v":15.6,"g":"A"},{"pos":2804,"v":14.8,"g":"A"},{"pos":2809,"v":13.3,"g":"A"},{"pos":2814,"v":11.1,"g":"A"},{"pos":2819,"v":13.3,"g":"A"},{"pos":2824,"v":9.6,"g":"A"},{"pos":2829,"v":7.3,"g":"A"},{"pos":2834,"v":5.8,"g":"A"},{"pos":2839,"v":4.3,"g":"A"},{"pos":2844,"v":3.6,"g":"A"},{"pos":2849,"v":5.1,"g":"A"},{"pos":2854,"v":4,"g":"A"},{"pos":2859,"v":2.8,"g":"A"},{"pos":2864,"v":3.6,"g":"A"},{"pos":2869,"v":3.2,"g":"A"},{"pos":2874,"v":10.3,"g":"A"},{"pos":2879,"v":7.7,"g":"A"},{"pos":2884,"v":5.8,"g":"A"},{"pos":2889,"v":5.1,"g":"A"},{"pos":2894,"v":3.6,"g":"A"},{"pos":2899,"v":3.2,"g":"A"},{"pos":2904,"v":2.1,"g":"A"},{"pos":2909,"v":1.7,"g":"A"},{"pos":2914,"v":0.9,"g":"A"},{"pos":2919,"v":2.8,"g":"A"},{"pos":2924,"v":2.1,"g":"A"},{"pos":2929,"v":3.6,"g":"A"},{"pos":2934,"v":2.4,"g":"A"},{"pos":2939,"v":1.7,"g":"A"},{"pos":2944,"v":2.1,"g":"A"}
],
"maj": [
{"pos":109,"v":17,"g":"MJ"},{"pos":124,"v":16.5,"g":"MJ"},{"pos":134,"v":15,"g":"MJ"},{"pos":144,"v":13.5,"g":"MJ"},{"pos":159,"v":12,"g":"MJ"},{"pos":174,"v":11.7,"g":"MJ"},{"pos":184,"v":12.5,"g":"MJ"},{"pos":194,"v":13.5,"g":"MJ"},{"pos":209,"v":15,"g":"MJ"},{"pos":224,"v":16.8,"g":"MJ"},{"pos":239,"v":18,"g":"MJ"},{"pos":259,"v":19.5,"g":"MJ"},{"pos":274,"v":21,"g":"MJ"},{"pos":289,"v":22.2,"g":"MJ"},{"pos":299,"v":22,"g":"MJ"},{"pos":309,"v":20.5,"g":"MJ"},{"pos":319,"v":18.5,"g":"MJ"},{"pos":329,"v":16,"g":"MJ"},{"pos":339,"v":15.5,"g":"MJ"},{"pos":349,"v":13.8,"g":"MJ"},{"pos":359,"v":13.5,"g":"MJ"},{"pos":369,"v":13,"g":"MJ"},{"pos":379,"v":12.5,"g":"MJ"},{"pos":389,"v":13,"g":"MJ"},{"pos":399,"v":12.5,"g":"MJ"},{"pos":409,"v":11.5,"g":"MJ"},{"pos":419,"v":11.5,"g":"MJ"},{"pos":429,"v":12.5,"g":"MJ"},{"pos":439,"v":13.5,"g":"MJ"},{"pos":449,"v":14,"g":"MJ"},{"pos":459,"v":16,"g":"MJ"},{"pos":474,"v":17.5,"g":"MJ"},{"pos":489,"v":19.3,"g":"MJ"},{"pos":509,"v":16.5,"g":"MJ"},{"pos":524,"v":16,"g":"MJ"},{"pos":539,"v":14,"g":"MJ"},{"pos":554,"v":11,"g":"MJ"},{"pos":569,"v":10.3,"g":"MJ"},{"pos":589,"v":9.8,"g":"MJ"},{"pos":599,"v":10.5,"g":"MJ"},{"pos":614,"v":12.5,"g":"MJ"},{"pos":629,"v":14.5,"g":"MJ"},{"pos":644,"v":16.5,"g":"MJ"},{"pos":659,"v":19,"g":"MJ"},{"pos":674,"v":21,"g":"MJ"},{"pos":689,"v":22.5,"g":"MJ"},{"pos":704,"v":23.5,"g":"MJ"},{"pos":719,"v":22,"g":"MJ"},{"pos":734,"v":19.5,"g":"MJ"},{"pos":749,"v":18,"g":"MJ"},{"pos":769,"v":16.5,"g":"MJ"},{"pos":789,"v":14.5,"g":"MJ"},{"pos":804,"v":13,"g":"MJ"},{"pos":819,"v":13.5,"g":"MJ"},{"pos":834,"v":15,"g":"MJ"},{"pos":849,"v":16,"g":"MJ"},{"pos":864,"v":16.5,"g":"MJ"},{"pos":879,"v":17.5,"g":"MJ"},{"pos":894,"v":18.5,"g":"MJ"},{"pos":909,"v":17.5,"g":"MJ"},{"pos":924,"v":16.5,"g":"MJ"},{"pos":934,"v":16.8,"g":"MJ"},{"pos":949,"v":16.2,"g":"MJ"},{"pos":964,"v":15.5,"g":"MJ"},{"pos":974,"v":15.2,"g":"MJ"},{"pos":989,"v":16.5,"g":"MJ"},{"pos":999,"v":17,"g":"MJ"},{"pos":1014,"v":18.5,"g":"MJ"},{"pos":1029,"v":20.5,"g":"MJ"},{"pos":1041,"v":22.3,"g":"MJ"},{"pos":1054,"v":21.5,"g":"MJ"},{"pos":1069,"v":20.8,"g":"MJ"},{"pos":1089,"v":20,"g":"MJ"},{"pos":1109,"v":18.5,"g":"MJ"},{"pos":1124,"v":17,"g":"MJ"},{"pos":1139,"v":16.5,"g":"MJ"},{"pos":1159,"v":14.5,"g":"MJ"},{"pos":1179,"v":13.5,"g":"MJ"},{"pos":1199,"v":12.5,"g":"MJ"},{"pos":1214,"v":11.5,"g":"MJ"},{"pos":1224,"v":11.5,"g":"MJ"},{"pos":1239,"v":12,"g":"MJ"},{"pos":1254,"v":13,"g":"MJ"},{"pos":1269,"v":14.5,"g":"MJ"},{"pos":1284,"v":16,"g":"MJ"},{"pos":1299,"v":18,"g":"MJ"},{"pos":1314,"v":21,"g":"MJ"},{"pos":1329,"v":23.5,"g":"MJ"},{"pos":1349,"v":25.2,"g":"MJ"},{"pos":1364,"v":24,"g":"MJ"},{"pos":1379,"v":22,"g":"MJ"},{"pos":1394,"v":19.5,"g":"MJ"},{"pos":1409,"v":16.5,"g":"MJ"},{"pos":1424,"v":13.5,"g":"MJ"},{"pos":1439,"v":14,"g":"MJ"},{"pos":1459,"v":13.2,"g":"MJ"},{"pos":1479,"v":12.8,"g":"MJ"},{"pos":1499,"v":12.2,"g":"MJ"},{"pos":1514,"v":12.5,"g":"MJ"},{"pos":1529,"v":15.5,"g":"MJ"},{"pos":1539,"v":16.5,"g":"MJ"},{"pos":1554,"v":16,"g":"MJ"},{"pos":1569,"v":16.5,"g":"MJ"},{"pos":1584,"v":17,"g":"MJ"},{"pos":1604,"v":18,"g":"MJ"},{"pos":1619,"v":18,"g":"MJ"},{"pos":1634,"v":17.5,"g":"MJ"},{"pos":1649,"v":15,"g":"MJ"},{"pos":1664,"v":14.5,"g":"MJ"},{"pos":1679,"v":14,"g":"MJ"},{"pos":1699,"v":12.5,"g":"MJ"},{"pos":1719,"v":10.5,"g":"MJ"},{"pos":1734,"v":9.8,"g":"MJ"},{"pos":1749,"v":10,"g":"MJ"},{"pos":1769,"v":12,"g":"MJ"},{"pos":1789,"v":14,"g":"MJ"},{"pos":1809,"v":16.5,"g":"MJ"},{"pos":1829,"v":18.5,"g":"MJ"},{"pos":1847,"v":19.8,"g":"MJ"},{"pos":1864,"v":18.8,"g":"MJ"},{"pos":1879,"v":18.2,"g":"MJ"},{"pos":1894,"v":16.5,"g":"MJ"},{"pos":1909,"v":14.5,"g":"MJ"},{"pos":1924,"v":14,"g":"MJ"},{"pos":1939,"v":14.5,"g":"MJ"},{"pos":1954,"v":13.5,"g":"MJ"},{"pos":1969,"v":15.5,"g":"MJ"},{"pos":1984,"v":18,"g":"MJ"},{"pos":1989,"v":20,"g":"MJ"},{"pos":2004,"v":22.5,"g":"MJ"},{"pos":2019,"v":24.8,"g":"MJ"},{"pos":2034,"v":23.5,"g":"MJ"},{"pos":2049,"v":22.5,"g":"MJ"},{"pos":2064,"v":21.5,"g":"MJ"},{"pos":2074,"v":19,"g":"MJ"},{"pos":2089,"v":16,"g":"MJ"},{"pos":2104,"v":12.5,"g":"MJ"},{"pos":2119,"v":11.5,"g":"MJ"},{"pos":2134,"v":9.5,"g":"MJ"},{"pos":2149,"v":8.8,"g":"MJ"},{"pos":2164,"v":8.5,"g":"MJ"},{"pos":2174,"v":8,"g":"MJ"},{"pos":2189,"v":9.5,"g":"MJ"},{"pos":2204,"v":11.5,"g":"MJ"},{"pos":2219,"v":13.5,"g":"MJ"},{"pos":2234,"v":14.5,"g":"MJ"},{"pos":2249,"v":15,"g":"MJ"},{"pos":2264,"v":16.5,"g":"MJ"},{"pos":2279,"v":17.5,"g":"MJ"},{"pos":2294,"v":18.8,"g":"MJ"},{"pos":2309,"v":17,"g":"MJ"},{"pos":2324,"v":15.5,"g":"MJ"},{"pos":2339,"v":14.5,"g":"MJ"},{"pos":2354,"v":13.8,"g":"MJ"},{"pos":2369,"v":13.5,"g":"MJ"},{"pos":2384,"v":13.5,"g":"MJ"},{"pos":2399,"v":13.2,"g":"MJ"},{"pos":2414,"v":13,"g":"MJ"},{"pos":2429,"v":12.5,"g":"MJ"},{"pos":2444,"v":12.3,"g":"MJ"},{"pos":2459,"v":11.5,"g":"MJ"},{"pos":2474,"v":11.5,"g":"MJ"},{"pos":2489,"v":10,"g":"MJ"},{"pos":2499,"v":9.5,"g":"MJ"},{"pos":2514,"v":10.5,"g":"MJ"},{"pos":2529,"v":12,"g":"MJ"},{"pos":2544,"v":13.5,"g":"MJ"},{"pos":2559,"v":15,"g":"MJ"},{"pos":2574,"v":17,"g":"MJ"},{"pos":2584,"v":19,"g":"MJ"},{"pos":2594,"v":20.5,"g":"MJ"},{"pos":2604,"v":20.5,"g":"MJ"},{"pos":2619,"v":22.5,"g":"MJ"},{"pos":2634,"v":21.5,"g":"MJ"},{"pos":2649,"v":20,"g":"MJ"},{"pos":2664,"v":18.5,"g":"MJ"},{"pos":2679,"v":17,"g":"MJ"},{"pos":2694,"v":14.5,"g":"MJ"},{"pos":2709,"v":15.5,"g":"MJ"},{"pos":2724,"v":14.8,"g":"MJ"},{"pos":2739,"v":15.5,"g":"MJ"},{"pos":2754,"v":16.5,"g":"MJ"},{"pos":2769,"v":18.5,"g":"MJ"},{"pos":2784,"v":19.5,"g":"MJ"},{"pos":2799,"v":19.8,"g":"MJ"},{"pos":2814,"v":19.8,"g":"MJ"},{"pos":2829,"v":18,"g":"MJ"},{"pos":2844,"v":15.5,"g":"MJ"},{"pos":2859,"v":13,"g":"MJ"},{"pos":2874,"v":11,"g":"MJ"},{"pos":2889,"v":8.5,"g":"MJ"},{"pos":2904,"v":6.5,"g":"MJ"},{"pos":2919,"v":5,"g":"MJ"},{"pos":2934,"v":4,"g":"MJ"},{"pos":2949,"v":3.3,"g":"MJ"},{"pos":2964,"v":2.8,"g":"MJ"},{"pos":2979,"v":2.7,"g":"MJ"}
],
"maa": [
{"pos":109,"v":15.5,"g":"MA"},{"pos":119,"v":15.2,"g":"MA"},{"pos":129,"v":14.5,"g":"MA"},{"pos":139,"v":13,"g":"MA"},{"pos":154,"v":12.5,"g":"MA"},{"pos":164,"v":11.5,"g":"MA"},{"pos":174,"v":12.5,"g":"MA"},{"pos":184,"v":14,"g":"MA"},{"pos":194,"v":15,"g":"MA"},{"pos":204,"v":14.5,"g":"MA"},{"pos":214,"v":15,"g":"MA"},{"pos":224,"v":16.5,"g":"MA"},{"pos":239,"v":18,"g":"MA"},{"pos":249,"v":20,"g":"MA"},{"pos":259,"v":21.5,"g":"MA"},{"pos":269,"v":24,"g":"MA"},{"pos":279,"v":25.3,"g":"MA"},{"pos":294,"v":25,"g":"MA"},{"pos":304,"v":24.5,"g":"MA"},{"pos":314,"v":22,"g":"MA"},{"pos":324,"v":19.5,"g":"MA"},{"pos":334,"v":16,"g":"MA"},{"pos":344,"v":14.5,"g":"MA"},{"pos":359,"v":13.5,"g":"MA"},{"pos":374,"v":13.2,"g":"MA"},{"pos":384,"v":12,"g":"MA"},{"pos":394,"v":11.5,"g":"MA"},{"pos":404,"v":11,"g":"MA"},{"pos":414,"v":11.5,"g":"MA"},{"pos":424,"v":12.5,"g":"MA"},{"pos":434,"v":13.5,"g":"MA"},{"pos":444,"v":14.5,"g":"MA"},{"pos":454,"v":15.5,"g":"MA"},{"pos":464,"v":16.5,"g":"MA"},{"pos":474,"v":17.5,"g":"MA"},{"pos":484,"v":18.5,"g":"MA"},{"pos":489,"v":19,"g":"MA"},{"pos":504,"v":17.5,"g":"MA"},{"pos":519,"v":17.5,"g":"MA"},{"pos":534,"v":15.5,"g":"MA"},{"pos":549,"v":13,"g":"MA"},{"pos":564,"v":12,"g":"MA"},{"pos":579,"v":11.5,"g":"MA"},{"pos":594,"v":11.8,"g":"MA"},{"pos":609,"v":12.3,"g":"MA"},{"pos":624,"v":14,"g":"MA"},{"pos":639,"v":15.5,"g":"MA"},{"pos":654,"v":17.5,"g":"MA"},{"pos":669,"v":20,"g":"MA"},{"pos":684,"v":22.5,"g":"MA"},{"pos":699,"v":24,"g":"MA"},{"pos":709,"v":25,"g":"MA"},{"pos":724,"v":23.5,"g":"MA"},{"pos":739,"v":21,"g":"MA"},{"pos":754,"v":19,"g":"MA"},{"pos":769,"v":17.5,"g":"MA"},{"pos":784,"v":15.5,"g":"MA"},{"pos":799,"v":14,"g":"MA"},{"pos":814,"v":14,"g":"MA"},{"pos":829,"v":14.5,"g":"MA"},{"pos":844,"v":15.5,"g":"MA"},{"pos":859,"v":16.5,"g":"MA"},{"pos":874,"v":17.5,"g":"MA"},{"pos":889,"v":18.5,"g":"MA"},{"pos":904,"v":18,"g":"MA"},{"pos":919,"v":17,"g":"MA"},{"pos":934,"v":17.5,"g":"MA"},{"pos":949,"v":17.2,"g":"MA"},{"pos":959,"v":17.5,"g":"MA"},{"pos":974,"v":16.8,"g":"MA"},{"pos":989,"v":17.2,"g":"MA"},{"pos":1004,"v":19.5,"g":"MA"},{"pos":1019,"v":22.5,"g":"MA"},{"pos":1029,"v":24,"g":"MA"},{"pos":1041,"v":26.8,"g":"MA"},{"pos":1059,"v":25.5,"g":"MA"},{"pos":1079,"v":24.5,"g":"MA"},{"pos":1099,"v":23.5,"g":"MA"},{"pos":1114,"v":20.5,"g":"MA"},{"pos":1129,"v":17,"g":"MA"},{"pos":1144,"v":15.5,"g":"MA"},{"pos":1159,"v":14,"g":"MA"},{"pos":1179,"v":13.5,"g":"MA"},{"pos":1199,"v":13,"g":"MA"},{"pos":1214,"v":12,"g":"MA"},{"pos":1224,"v":11.5,"g":"MA"},{"pos":1239,"v":12.5,"g":"MA"},{"pos":1254,"v":13.5,"g":"MA"},{"pos":1269,"v":15,"g":"MA"},{"pos":1289,"v":17.5,"g":"MA"},{"pos":1309,"v":20.5,"g":"MA"},{"pos":1329,"v":24,"g":"MA"},{"pos":1339,"v":26,"g":"MA"},{"pos":1351,"v":27,"g":"MA"},{"pos":1364,"v":25.5,"g":"MA"},{"pos":1379,"v":23,"g":"MA"},{"pos":1394,"v":19.5,"g":"MA"},{"pos":1409,"v":16.5,"g":"MA"},{"pos":1424,"v":15.5,"g":"MA"},{"pos":1439,"v":17,"g":"MA"},{"pos":1459,"v":15,"g":"MA"},{"pos":1474,"v":14,"g":"MA"},{"pos":1489,"v":13.5,"g":"MA"},{"pos":1504,"v":12.8,"g":"MA"},{"pos":1514,"v":14,"g":"MA"},{"pos":1524,"v":15,"g":"MA"},{"pos":1539,"v":14.8,"g":"MA"},{"pos":1554,"v":16,"g":"MA"},{"pos":1569,"v":17.5,"g":"MA"},{"pos":1584,"v":18.5,"g":"MA"},{"pos":1599,"v":21,"g":"MA"},{"pos":1614,"v":21.5,"g":"MA"},{"pos":1629,"v":19.5,"g":"MA"},{"pos":1644,"v":18,"g":"MA"},{"pos":1659,"v":17,"g":"MA"},{"pos":1674,"v":15,"g":"MA"},{"pos":1689,"v":13.5,"g":"MA"},{"pos":1709,"v":12.5,"g":"MA"},{"pos":1724,"v":11,"g":"MA"},{"pos":1734,"v":10.2,"g":"MA"},{"pos":1749,"v":11,"g":"MA"},{"pos":1769,"v":12.5,"g":"MA"},{"pos":1789,"v":12.8,"g":"MA"},{"pos":1809,"v":13,"g":"MA"},{"pos":1824,"v":12.8,"g":"MA"},{"pos":1839,"v":14,"g":"MA"},{"pos":1854,"v":14.5,"g":"MA"},{"pos":1869,"v":13.5,"g":"MA"},{"pos":1884,"v":12.5,"g":"MA"},{"pos":1899,"v":13,"g":"MA"},{"pos":1914,"v":12.5,"g":"MA"},{"pos":1929,"v":14.5,"g":"MA"},{"pos":1949,"v":13.5,"g":"MA"},{"pos":1969,"v":15.5,"g":"MA"},{"pos":1989,"v":18.5,"g":"MA"},{"pos":2004,"v":19.5,"g":"MA"},{"pos":2019,"v":22,"g":"MA"},{"pos":2029,"v":23.5,"g":"MA"},{"pos":2044,"v":22,"g":"MA"},{"pos":2059,"v":20,"g":"MA"},{"pos":2074,"v":17.5,"g":"MA"},{"pos":2089,"v":14.5,"g":"MA"},{"pos":2104,"v":12.5,"g":"MA"},{"pos":2119,"v":10.5,"g":"MA"},{"pos":2134,"v":9,"g":"MA"},{"pos":2149,"v":8.8,"g":"MA"},{"pos":2164,"v":8.5,"g":"MA"},{"pos":2179,"v":8.5,"g":"MA"},{"pos":2194,"v":10,"g":"MA"},{"pos":2209,"v":11.5,"g":"MA"},{"pos":2229,"v":12.5,"g":"MA"},{"pos":2249,"v":13.5,"g":"MA"},{"pos":2269,"v":14.5,"g":"MA"},{"pos":2289,"v":16,"g":"MA"},{"pos":2304,"v":17,"g":"MA"},{"pos":2319,"v":16.2,"g":"MA"},{"pos":2334,"v":17,"g":"MA"},{"pos":2349,"v":15.5,"g":"MA"},{"pos":2369,"v":15.5,"g":"MA"},{"pos":2389,"v":15,"g":"MA"},{"pos":2409,"v":14.5,"g":"MA"},{"pos":2429,"v":14,"g":"MA"},{"pos":2444,"v":13.5,"g":"MA"},{"pos":2459,"v":14,"g":"MA"},{"pos":2474,"v":14.3,"g":"MA"},{"pos":2489,"v":13,"g":"MA"},{"pos":2499,"v":12,"g":"MA"},{"pos":2514,"v":13.5,"g":"MA"},{"pos":2529,"v":16,"g":"MA"},{"pos":2544,"v":16.5,"g":"MA"},{"pos":2559,"v":17.5,"g":"MA"},{"pos":2574,"v":18.5,"g":"MA"},{"pos":2589,"v":20,"g":"MA"},{"pos":2604,"v":20.5,"g":"MA"},{"pos":2619,"v":22,"g":"MA"},{"pos":2629,"v":21,"g":"MA"},{"pos":2644,"v":18.5,"g":"MA"},{"pos":2659,"v":17.5,"g":"MA"},{"pos":2674,"v":15.5,"g":"MA"},{"pos":2689,"v":14,"g":"MA"},{"pos":2704,"v":13.5,"g":"MA"},{"pos":2719,"v":13.5,"g":"MA"},{"pos":2734,"v":14.2,"g":"MA"},{"pos":2749,"v":15.5,"g":"MA"},{"pos":2764,"v":17.5,"g":"MA"},{"pos":2779,"v":19.5,"g":"MA"},{"pos":2794,"v":20.5,"g":"MA"},{"pos":2809,"v":22.5,"g":"MA"},{"pos":2819,"v":23,"g":"MA"},{"pos":2834,"v":21,"g":"MA"},{"pos":2849,"v":18,"g":"MA"},{"pos":2864,"v":14.5,"g":"MA"},{"pos":2879,"v":11,"g":"MA"},{"pos":2894,"v":8.5,"g":"MA"},{"pos":2909,"v":7,"g":"MA"},{"pos":2924,"v":6,"g":"MA"},{"pos":2939,"v":5,"g":"MA"},{"pos":2954,"v":4.5,"g":"MA"},{"pos":2969,"v":4.5,"g":"MA"},{"pos":2979,"v":4.4,"g":"MA"}
]
},
"encoding": {
"x": {"field": "pos", "type": "quantitative", "scale": {"domain": [0, 2979], "nice": false, "zero": false},
 "axis": {"title": null, "grid": false, "ticks": false, "domain": false, "labelAngle": -45, "labelAlign": "right", "labelBaseline": "top", "labelFontSize": 10, "labelColor": "#595959", "labelFont": "Lato", "labelPadding": 3, "labelOverlap": false, "labelFlush": false, "labelBound": false,
 "values": [74,166,361,564,685,801,931,1021,1132,1251,1434,1531,1652,1739,1841,1934,2109,2174,2251,2366,2521,2636,2722,2882,2951],
 "labelExpr": "['Huron','Spadina','Denison','Bathurst','Palmerston','Manning','Grace','Montrose','Shaw','Ossington','Dovercourt','Rusholme','Gladstone','Dufferin','Sheridan','Brock','Lansdowne','College','Sterling','Sorauren','Howard Pk','Ritchie','Roncesvalles','Bloor','Edna'][indexof([74,166,361,564,685,801,931,1021,1132,1251,1434,1531,1652,1739,1841,1934,2109,2174,2251,2366,2521,2636,2722,2882,2951], datum.value)]"}},
"y": {"field": "v", "type": "quantitative", "scale": {"domain": [0, 50], "nice": false},
 "axis": {"title": null, "values": [0,5,10,15,20,25,30,35,40,45,50], "grid": true, "gridColor": "#D9D9D9", "gridWidth": 1, "ticks": false, "domain": false, "labelFontSize": 10, "labelColor": "#595959", "labelFont": "Lato", "labelPadding": 9}},
"color": {"field": "g", "type": "nominal",
 "scale": {"domain": ["L","J","A","MJ","MA"], "range": ["#A5A5A5","#1F74C4","#ED7D31","#0B1F52","#FFFF00"]},
 "legend": {"title": null, "orient": "none", "legendX": 123, "legendY": 508, "direction": "horizontal", "symbolType": "stroke", "symbolSize": 900, "symbolStrokeWidth": 2, "symbolOffset": 9, "labelFontSize": 9.5, "labelColor": "#595959", "labelFont": "Lato", "labelOffset": 13, "columnPadding": 19, "labelLimit": 300,
  "labelExpr": "datum.label == 'L' ? 'Locations' : datum.label == 'J' ? 'June 1-5, 2026' : datum.label == 'A' ? 'Apr. 13-17, 2023' : datum.label == 'MJ' ? '20 per. Mov. Avg. (June 1-5, 2026)' : '20 per. Mov. Avg. (Apr. 13-17, 2023)'",
  "encode": {"symbols": {"update": {"strokeWidth": {"signal": "datum.value == 'L' ? 6 : 2"}, "strokeDash": {"signal": "datum.value == 'MJ' || datum.value == 'MA' ? [4, 2] : [1, 0]"}}}}}}
},
"layer": [
{"data": {"name": "loc"}, "mark": {"type": "rule", "strokeWidth": 1}, "encoding": {"y": {"datum": 0}, "y2": {"datum": 50}}},
{"data": {"name": "jun"}, "mark": {"type": "line", "strokeWidth": 1.6, "clip": true}},
{"data": {"name": "apr"}, "mark": {"type": "line", "strokeWidth": 1.6, "clip": true}},
{"data": {"name": "maj"}, "mark": {"type": "line", "strokeWidth": 2, "strokeDash": [4, 2], "clip": true}},
{"data": {"name": "maa"}, "mark": {"type": "line", "strokeWidth": 2, "strokeDash": [4, 2], "clip": true}}
]
}
